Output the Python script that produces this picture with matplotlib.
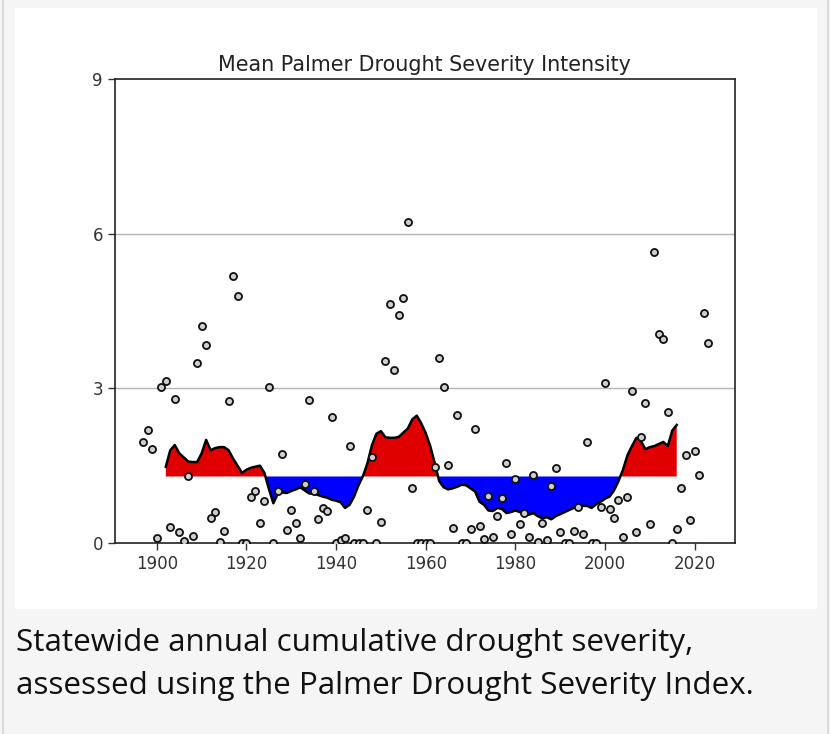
import numpy as np
import matplotlib
matplotlib.use('Agg')
import matplotlib.pyplot as plt
from matplotlib.patches import Rectangle
from matplotlib.lines import Line2D

# Annual mean PDSI drought intensity (points), 1897-2023
years = np.arange(1897, 2024)
annual = [
    1.96, 2.19, 1.82, 0.09, 3.03, 3.15, 0.32, 2.79, 0.21, 0.03,  # 1897-1906
    1.30, 0.14, 3.50, 4.20, 3.84, 0.48, 0.60, 0.02, 0.23, 2.75,  # 1907-1916
    5.18, 4.79, 0.00, 0.00, 0.90, 1.01, 0.39, 0.82, 3.03, 0.00,  # 1917-1926
    1.00, 1.73, 0.25, 0.64, 0.39, 0.09, 1.14, 2.77, 1.01, 0.46,  # 1927-1936
    0.67, 0.63, 2.44, 0.00, 0.06, 0.09, 1.89, 0.00, 0.00, 0.00,  # 1937-1946
    0.64, 1.66, 0.00, 0.41, 3.53, 4.63, 3.36, 4.42, 4.75, 6.23,  # 1947-1956
    1.06, 0.00, 0.00, 0.00, 0.00, 1.48, 3.58, 3.03, 1.51, 0.30,  # 1957-1966
    2.49, 0.00, 0.00, 0.28, 2.21, 0.33, 0.07, 0.91, 0.12, 0.52,  # 1967-1976
    0.87, 1.56, 0.17, 1.24, 0.36, 0.59, 0.12, 1.31, 0.02, 0.39,  # 1977-1986
    0.06, 1.11, 1.45, 0.22, 0.00, 0.00, 0.24, 0.70, 0.17, 1.96,  # 1987-1996
    0.00, 0.00, 0.70, 3.10, 0.65, 0.48, 0.83, 0.11, 0.90, 2.95,  # 1997-2006
    0.21, 2.05, 2.71, 0.36, 5.64, 4.05, 3.96, 2.55, 0.00, 0.28,  # 2007-2016
    1.06, 1.71, 0.45, 1.78, 1.31, 4.47, 3.87,                    # 2017-2023
]

# Smoothed curve, 1902-2016
smooth_years = np.arange(1902, 2017)
smooth = [
    1.48, 1.80, 1.90, 1.74, 1.66, 1.58, 1.57, 1.57, 1.74, 2.00,  # 1902-1911
    1.80, 1.84, 1.86, 1.86, 1.80, 1.64, 1.50, 1.36, 1.42, 1.46,  # 1912-1921
    1.48, 1.50, 1.36, 1.05, 0.77, 0.96, 0.98, 0.97, 1.01, 1.04,  # 1922-1931
    1.08, 1.02, 0.96, 0.96, 0.93, 0.90, 0.88, 0.84, 0.82, 0.79,  # 1932-1941
    0.68, 0.74, 0.90, 1.12, 1.30, 1.55, 1.90, 2.12, 2.17, 2.05,  # 1942-1951
    2.04, 2.04, 2.06, 2.14, 2.22, 2.40, 2.47, 2.32, 2.13, 1.88,  # 1952-1961
    1.55, 1.20, 1.08, 1.04, 1.06, 1.09, 1.13, 1.12, 1.06, 1.00,  # 1962-1971
    0.80, 0.74, 0.63, 0.62, 0.68, 0.66, 0.58, 0.60, 0.63, 0.60,  # 1972-1981
    0.55, 0.55, 0.58, 0.52, 0.48, 0.50, 0.46, 0.52, 0.56, 0.60,  # 1982-1991
    0.64, 0.68, 0.70, 0.72, 0.72, 0.68, 0.75, 0.80, 0.86, 0.90,  # 1992-2001
    1.02, 1.20, 1.42, 1.70, 1.88, 2.04, 1.98, 1.82, 1.86, 1.88,  # 2002-2011
    1.92, 1.96, 1.88, 2.18, 2.29,                                # 2012-2016
]
baseline = 1.29

y_ticks = [0, 3, 6, 9]
x_ticks = [1900, 1920, 1940, 1960, 1980, 2000, 2020]

annual = np.array(annual)
smooth = np.array(smooth)

fig = plt.figure(figsize=(8.3, 7.34), dpi=100, facecolor='#f5f5f5')

# white card behind the chart + thin page borders
W, H = 830, 734
fig.patches.append(Rectangle((15 / W, 1 - 609 / H), 802 / W, 601 / H,
                             transform=fig.transFigure, facecolor='white',
                             edgecolor='none', zorder=-10))
for xb in (2.5, 827.5):
    fig.lines.append(Line2D([xb / W, xb / W], [0, 1], transform=fig.transFigure,
                            color='#dcdcdc', lw=1.5, zorder=-5))

ax = fig.add_axes([114.7 / W, 1 - 543 / H, (735 - 114.7) / W, (543 - 79) / H])
ax.set_facecolor('white')

ax.fill_between(smooth_years, smooth, baseline, where=smooth >= baseline,
                interpolate=True, color='#e00000', lw=0, zorder=2)
ax.fill_between(smooth_years, smooth, baseline, where=smooth <= baseline,
                interpolate=True, color='#0000ff', lw=0, zorder=2)
ax.plot(smooth_years, smooth, color='black', lw=1.8, zorder=3)

ax.scatter(years, annual, s=26, facecolor='#cfcfcf', edgecolor='#111111',
           linewidth=1.3, zorder=4, clip_on=True)

for g in (3, 6):
    ax.axhline(g, color='#b4b4b4', lw=1.0, zorder=1)

ax.set_xlim(1890.6, 2029.0)
ax.set_ylim(0, 9)
ax.set_yticks(y_ticks)
ax.set_xticks(x_ticks)
ax.tick_params(labelsize=12, labelcolor='#333333', length=5, width=1.0, color='#333333')
for sp in ax.spines.values():
    sp.set_linewidth(1.2)
    sp.set_color('#222222')

ax.set_title('Mean Palmer Drought Severity Intensity', fontsize=14.9,
             color='#222222', pad=6)

fig.text(16 / W, 1 - 643 / H, 'Statewide annual cumulative drought severity,',
         family='Open Sans', fontsize=22.6, color='#111111', va='center', ha='left')
fig.text(16 / W, 1 - 686 / H, 'assessed using the Palmer Drought Severity Index.',
         family='Open Sans', fontsize=22.6, color='#111111', va='center', ha='left')

fig.savefig('out.png', dpi=100, facecolor=fig.get_facecolor())
